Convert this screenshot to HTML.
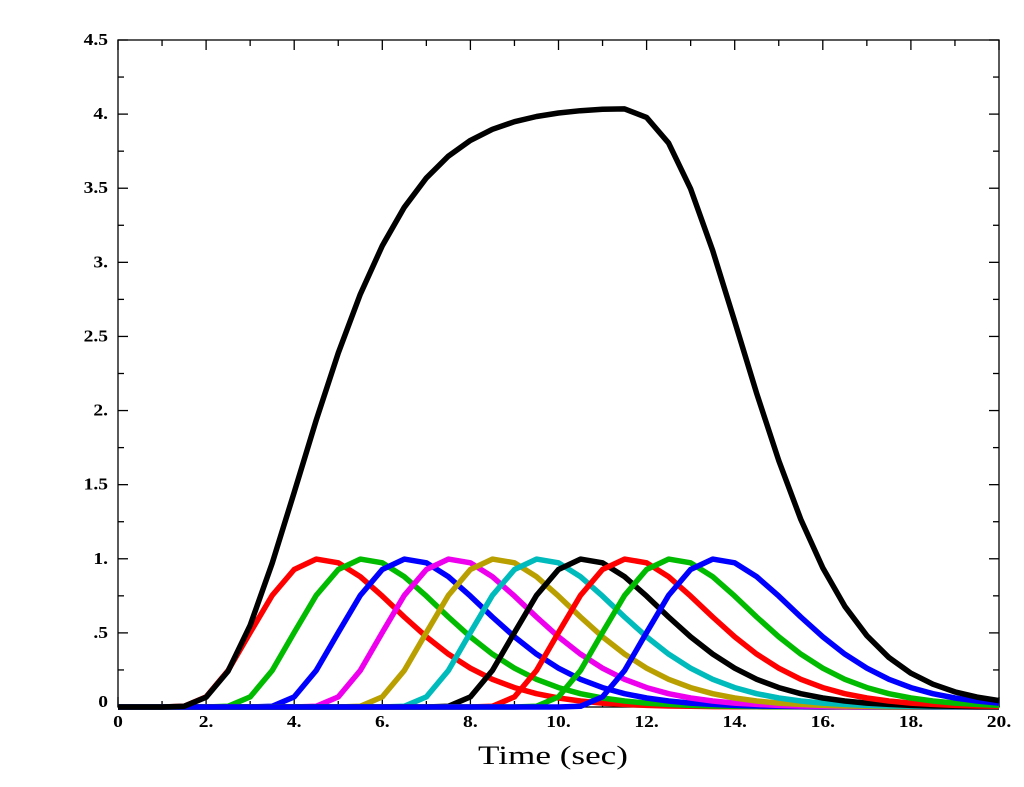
<!DOCTYPE html>
<html><head><meta charset="utf-8"><style>
html,body{margin:0;padding:0;background:#fff;}
svg{display:block;}
text{font-family:"Liberation Serif",serif;fill:#000;}
</style></head><body>
<svg id="s" width="1024" height="787" xmlns="http://www.w3.org/2000/svg"></svg>
<script>
const s=document.getElementById('s');
const X0=118,X1=999,Y0=707,Y1=40;
const xs=t=>X0+(X1-X0)*t/20, ys=v=>Y0-(Y0-Y1)*v/4.5;
let h='';
h+=`<rect x="${X0}" y="${Y1}" width="${X1-X0}" height="${Y0-Y1}" fill="none" stroke="#000" stroke-width="1.3"/>`;
for(let t=0;t<=20;t++){const x=xs(t),L=t%2==0?10:6;
 h+=`<line x1="${x}" y1="${Y0}" x2="${x}" y2="${Y0-L}" stroke="#000" stroke-width="1.3"/><line x1="${x}" y1="${Y1}" x2="${x}" y2="${Y1+L}" stroke="#000" stroke-width="1.3"/>`;
 if(t%2==0) h+=`<text x="${x}" y="${Y0+20}" font-size="17" font-weight="bold" text-anchor="middle" transform="translate(${x},0) scale(1.15,1) translate(${-x},0)">${t==0?'0':t+'.'}</text>`;}
const yl=['0','.5','1.','1.5','2.','2.5','3.','3.5','4.','4.5'];
for(let k=0;k<=18;k++){const v=k*0.25,y=ys(v),L=k%2==0?10:6;
 h+=`<line x1="${X0}" y1="${y}" x2="${X0+L}" y2="${y}" stroke="#000" stroke-width="1.3"/><line x1="${X1}" y1="${y}" x2="${X1-L}" y2="${y}" stroke="#000" stroke-width="1.3"/>`;
 if(k%2==0){const xx=X0-10; h+=`<text x="${xx}" y="${y+(k==0?0:5)}" font-size="17" font-weight="bold" text-anchor="end" transform="translate(${xx},0) scale(1.15,1) translate(${-xx},0)">${yl[k/2]}</text>`;}}
h+=`<text x="478" y="764" font-size="26" textLength="150" lengthAdjust="spacingAndGlyphs">Time (sec)</text>`;
const a=4.8,p=3.6;
const g=(t,d)=>{const u=(t-d)/p;return u<=0?0:Math.pow(u,a)*Math.exp(a*(1-u));};
const cols=['#f00','#0b0','#00f','#e0e','#b9a000','#0bb','#000','#f00','#0b0','#00f'];
let sum=[];
for(let i=0;i<10;i++){let pts=[];
 for(let j=0;j<=40;j++){const t=j*0.5,v=g(t,1+i);sum[j]=(sum[j]||0)+v;pts.push(xs(t).toFixed(1)+','+ys(v).toFixed(1));}
 h+=`<polyline points="${pts.join(' ')}" fill="none" stroke="${cols[i]}" stroke-width="5.5" stroke-linejoin="round"/>`;}
let pts=sum.map((v,j)=>xs(j*0.5).toFixed(1)+','+ys(v*4.05/4.19).toFixed(1));
h+=`<polyline points="${pts.join(' ')}" fill="none" stroke="#000" stroke-width="5.5" stroke-linejoin="round"/>`;
s.innerHTML=h;
</script>
</body></html>
